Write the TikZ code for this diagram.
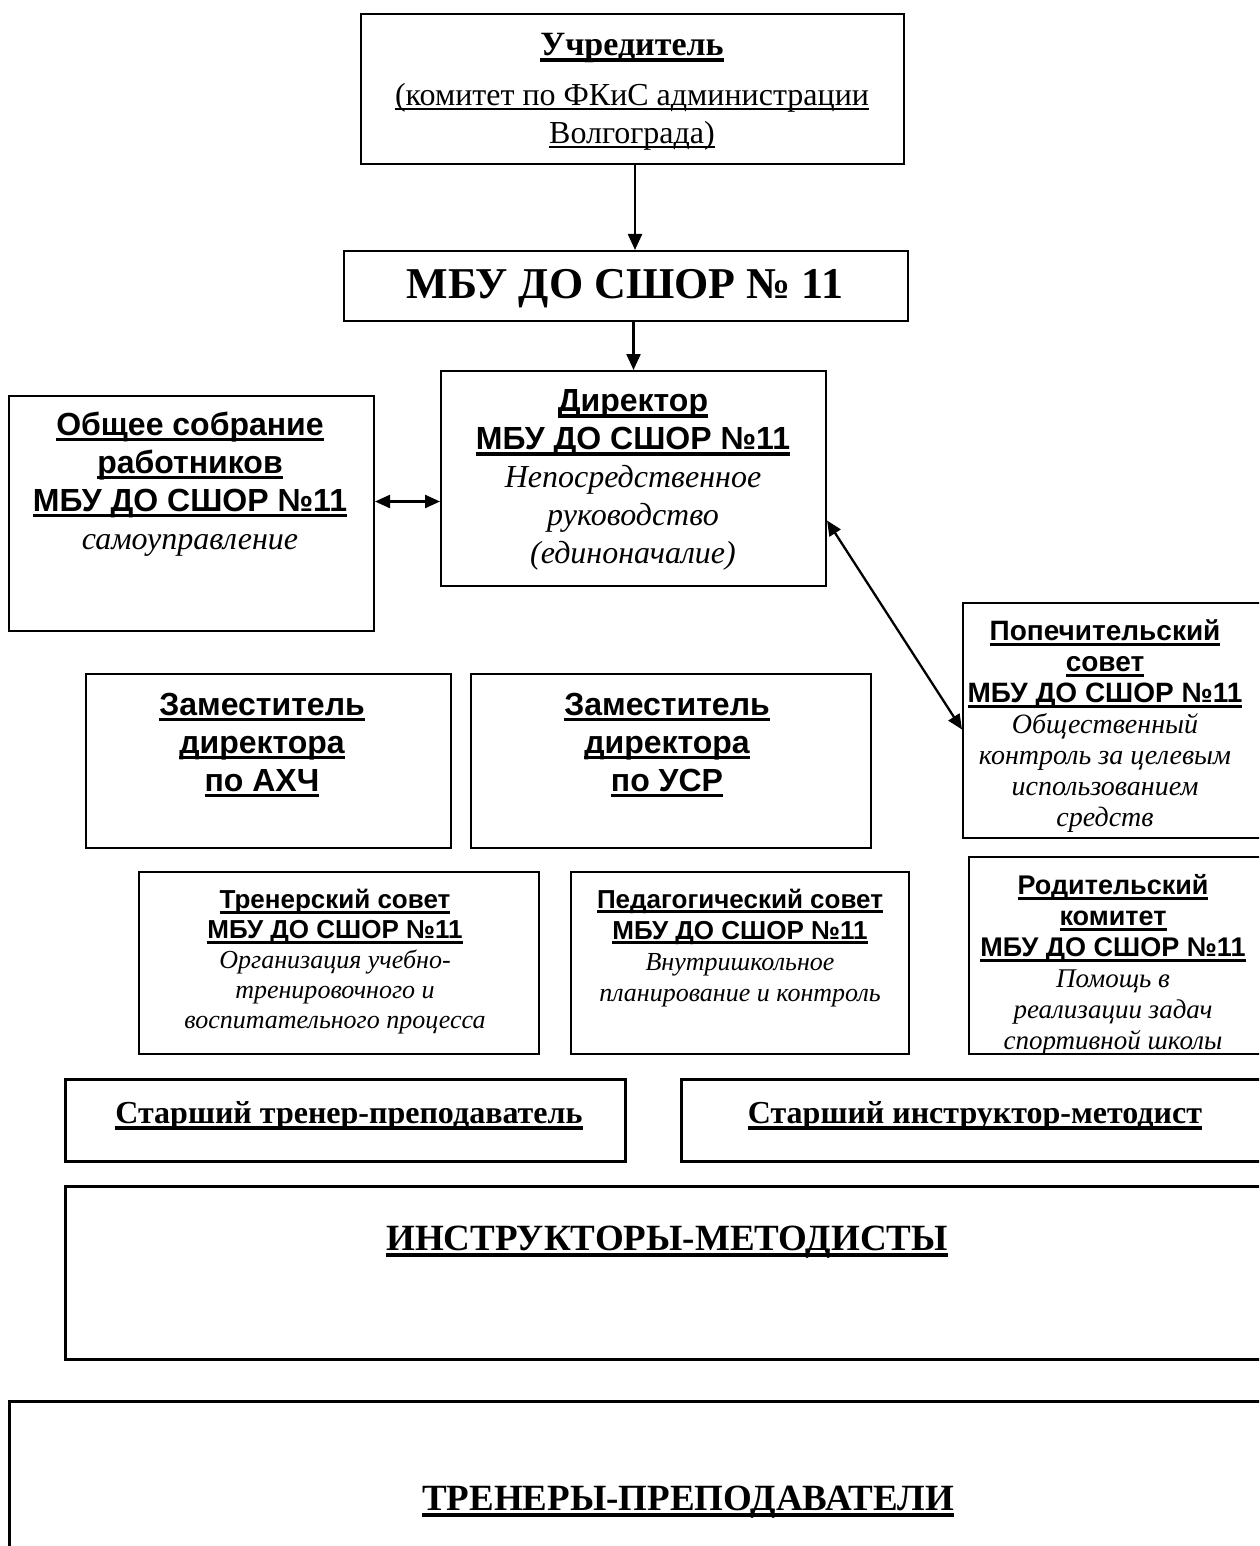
\documentclass[tikz,border=0pt]{standalone}
\usepackage{fontspec}
\setmainfont{Liberation Serif}
\setsansfont{Liberation Sans}
\usetikzlibrary{arrows.meta}
\newsavebox\ulbox
\newcommand\ulk[1]{\sbox\ulbox{#1}\rlap{\rule[-0.19em]{\wd\ulbox}{0.11em}}\usebox\ulbox}
\newcommand\ult[1]{\sbox\ulbox{#1}\rlap{\rule[-0.14em]{\wd\ulbox}{0.055em}}\usebox\ulbox}
\newcommand\fs[2]{\fontsize{#1}{#2}\selectfont}
\newcommand\ix[1]{{\rmfamily\mdseries\itshape #1}}
\begin{document}
\begin{tikzpicture}[x=1pt,y=-1pt,
  box/.style={draw, line width=2pt, rectangle, inner sep=0pt, anchor=north west},
  bigbox/.style={box, line width=2.6pt},
  txt/.style={align=center, inner sep=0pt},
  arr/.style={line width=2.3pt, -{Triangle[length=16pt,width=14pt]}},
  darr/.style={line width=2.3pt, {Triangle[length=15pt,width=13pt]}-{Triangle[length=15pt,width=13pt]}}]
\path[use as bounding box, clip] (0,0) rectangle (1259,1546);
\fill[white] (0,0) rectangle (1259,1546);

% boxes
\node[box, minimum width=543pt, minimum height=150pt] (uch) at (360,13) {};
\node[box, minimum width=564pt, minimum height=70pt] (mbu) at (343,250) {};
\node[box, minimum width=385pt, minimum height=215pt] (dir) at (440,370) {};
\node[box, minimum width=365pt, minimum height=235pt] (obs) at (8,395) {};
\node[box, minimum width=320pt, minimum height=235pt] (pop) at (962,602) {};
\node[box, minimum width=365pt, minimum height=174pt] (zA) at (85,673) {};
\node[box, minimum width=400pt, minimum height=174pt] (zU) at (470,673) {};
\node[box, minimum width=400pt, minimum height=182pt] (trs) at (138,871) {};
\node[box, minimum width=338pt, minimum height=182pt] (peds) at (570,871) {};
\node[box, minimum width=312pt, minimum height=197pt] (rod) at (968,856) {};
\node[bigbox, minimum width=560pt, minimum height=82pt] (st) at (64,1078) {};
\node[bigbox, minimum width=600pt, minimum height=82pt] (si) at (680,1078) {};
\node[bigbox, minimum width=1216pt, minimum height=173pt] (ins) at (64,1185) {};
\node[bigbox, minimum width=1272pt, minimum height=200pt] (tr) at (8,1400) {};

% texts
\node[txt, font=\fs{32}{38}] (uchT) at (632,92) {{\fontsize{34}{38}\selectfont\textbf{\ulk{Учредитель}}}\\[12pt]
  \ult{(комитет по ФКиС администрации}\\ \ult{Волгограда)}};
\node[txt, font=\fs{44}{50}\bfseries] (mbuT) at (625,289) {МБУ ДО СШОР № 11};
\node[txt, font=\fs{32}{38}\sffamily\bfseries] (dirT) at (633,480) {\ulk{Директор}\\ \ulk{МБУ ДО СШОР №11}\\
  \ix{Непосредственное}\\ \ix{руководство}\\ \ix{(единоначалие)}};
\node[txt, font=\fs{32}{38}\sffamily\bfseries] (obsT) at (190,484) {\ulk{Общее собрание}\\ \ulk{работников}\\ \ulk{МБУ ДО СШОР №11}\\
  \ix{самоуправление}};
\node[txt, font=\fs{28}{31}\sffamily\bfseries] (popT) at (1105,726) {\ulk{Попечительский}\\ \ulk{совет}\\ \ulk{МБУ ДО СШОР №11}\\
  \ix{Общественный}\\ \ix{контроль за целевым}\\ \ix{использованием}\\ \ix{средств}};
\node[txt, font=\fs{32}{38}\sffamily\bfseries] (zAT) at (262,745) {\ulk{Заместитель}\\ \ulk{директора}\\ \ulk{по АХЧ}};
\node[txt, font=\fs{32}{38}\sffamily\bfseries] (zUT) at (667,745) {\ulk{Заместитель}\\ \ulk{директора}\\ \ulk{по УСР}};
\node[txt, font=\fs{26}{30}\sffamily\bfseries] (trsT) at (335,962) {\ulk{Тренерский совет}\\ \ulk{МБУ ДО СШОР №11}\\
  \ix{Организация учебно-}\\ \ix{тренировочного и}\\ \ix{воспитательного процесса}};
\node[txt, font=\fs{26}{31}\sffamily\bfseries] (pedsT) at (740,948) {\ulk{Педагогический совет}\\ \ulk{МБУ ДО СШОР №11}\\
  \ix{Внутришкольное}\\ \ix{планирование и контроль}};
\node[txt, font=\fs{27}{31}\sffamily\bfseries] (rodT) at (1113,965) {\ulk{Родительский}\\ \ulk{комитет}\\ \ulk{МБУ ДО СШОР №11}\\
  \ix{Помощь в}\\ \ix{реализации задач}\\ \ix{спортивной школы}};
\node[txt, font=\fs{32}{38}\bfseries] (stT) at (349,1116) {\ulk{Старший тренер-преподаватель}};
\node[txt, font=\fs{32}{38}\bfseries] (siT) at (975,1116) {\ulk{Старший инструктор-методист}};
\node[txt, font=\fs{37}{42}\bfseries] (insT) at (667,1242) {\ulk{ИНСТРУКТОРЫ-МЕТОДИСТЫ}};
\node[txt, font=\fs{37}{42}\bfseries] (trT) at (688,1502) {\ulk{ТРЕНЕРЫ-ПРЕПОДАВАТЕЛИ}};

% connectors
\draw[arr] ([xshift=2.5pt]uch.south) -- ([xshift=2.5pt]uch.south |- mbu.north);
\draw[arr] (dir.north |- mbu.south) -- (dir.north);
\draw[darr] ([yshift=12pt]obs.east) -- ([yshift=12pt]obs.east -| dir.west);
\draw[darr] ([yshift=-42pt]dir.east) -- ([yshift=-9pt]pop.west);
\end{tikzpicture}
\end{document}
